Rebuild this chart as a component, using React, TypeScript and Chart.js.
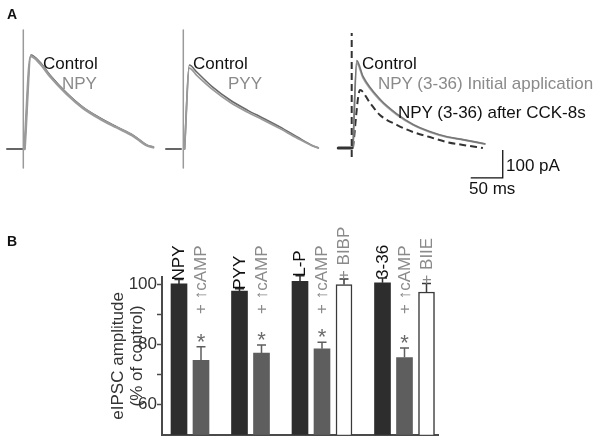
import React, { useEffect, useRef } from 'react';
import { Chart, registerables } from 'chart.js';

Chart.register(...registerables);

const FONT = '"Liberation Sans", Arial, Helvetica, sans-serif';

// ---------- Panel A data (time in ms after stimulus, current in pA above baseline) ----------
const npyTime = [2, 11.6, 26, 42, 68, 93, 120, 146, 171, 193, 203];
const npyControl = [0, 336, 311, 264, 200, 150, 111, 79, 50, 14, 7];
const npyDrug = [0, 331, 306, 259, 196, 147, 108, 77, 48, 13, 6];

const pyyTime = [2, 9.4, 21, 46, 73, 100, 124, 151, 178, 203, 211];
const pyyControl = [0, 300, 275, 221, 175, 139, 111, 79, 43, 11, 4];
const pyyDrug = [0, 289, 263, 212, 167, 132, 105, 73, 39, 10, 4];

const n336Time = [2, 7.8, 17.7, 44, 71, 96, 122, 149, 174, 208];
const n336Control = [0, 312, 256, 175, 121, 84, 59, 40, 30, 15];
const n336Initial = [0, 304, 250, 171, 118, 82, 57, 39, 29, 14];
const n336AfterTime = [2, 13, 28.6, 44, 71, 96, 122, 149, 174, 205];
const n336After = [0, 207, 161, 118, 82, 57, 39, 21, 11, 0];

const baselineTimes = [[-25.5, -2], [-27, -3.6], [-21, 0]];
const artifactRange = [[-68, 425], [-68, 425], [-32, 411]];

const scaleBarMs = 50;
const scaleBarPa = 100;

// ---------- Panel B data ----------
const barLabels = ['NPY', '+ \u2191cAMP', 'PYY', '+ \u2191cAMP', 'L-P', '+ \u2191cAMP', '+ BIBP', '3-36', '+ \u2191cAMP', '+ BIIE'];
const barValues = [100.2, 74.8, 97.8, 77.2, 101.1, 78.6, 100.0, 100.6, 75.7, 97.5];
const barErrors = [1.5, 4.5, 0.8, 2.7, 1.8, 2.2, 1.8, 1.6, 3.2, 2.8];
const barKinds = ['peptide', 'camp', 'peptide', 'camp', 'peptide', 'camp', 'blocker', 'peptide', 'camp', 'blocker'];
const barGroups = [0, 0, 1, 1, 2, 2, 2, 3, 3, 3];
const barSignificant = [false, true, false, true, false, true, false, false, true, false];
const yTicksLabelled = [60, 80, 100];
const yAxisTitle = ['eIPSC amplitude', '(% of control)'];

// ---------- layout / style ----------
const PX_PER_MS = 0.64;
const PX_PER_PA = 0.28;
const SCALE_BAR_CORNER = { t: 236, v: -107 };

const FILL: Record<string, string> = { peptide: '#2d2d2d', camp: '#5e5e5e', blocker: '#ffffff' };
const EDGE: Record<string, string> = { peptide: '#2d2d2d', camp: '#5e5e5e', blocker: '#3a3a3a' };
const LABEL_COL: Record<string, string> = { peptide: '#111111', camp: '#8a8a8a', blocker: '#8a8a8a' };

const pts = (xs: number[], ys: number[]) => xs.map((x, i) => ({ x, y: ys[i] }));

function lineDs(data: any[], color: string, width: number, extra: any = {}) {
  return {
    data,
    borderColor: color,
    borderWidth: width,
    pointRadius: 0,
    fill: false,
    borderJoinStyle: 'round',
    borderCapStyle: 'round',
    tension: 0,
    ...extra,
  };
}

const smooth = { cubicInterpolationMode: 'monotone' };

function TraceChart(props: {
  left: number; top: number; width: number; height: number; stimX: number; baseY: number;
  datasets: any[]; plugins?: any[];
}) {
  const { left, top, width, height, stimX, baseY, datasets, plugins } = props;
  const ref = useRef<HTMLCanvasElement>(null);
  useEffect(() => {
    const xMin = -(stimX - left) / PX_PER_MS;
    const xMax = (left + width - stimX) / PX_PER_MS;
    const yMax = (baseY - top) / PX_PER_PA;
    const yMin = -(top + height - baseY) / PX_PER_PA;
    const chart = new Chart(ref.current as HTMLCanvasElement, {
      type: 'line',
      data: { datasets },
      options: {
        animation: false,
        responsive: false,
        maintainAspectRatio: false,
        events: [],
        layout: { padding: 0 },
        plugins: { legend: { display: false }, tooltip: { enabled: false } },
        scales: {
          x: { type: 'linear', display: false, min: xMin, max: xMax },
          y: { type: 'linear', display: false, min: yMin, max: yMax },
        },
      },
      plugins: plugins || [],
    } as any);
    return () => chart.destroy();
  }, []);
  return (
    <canvas
      ref={ref}
      width={width}
      height={height}
      style={{ position: 'absolute', left, top, width, height }}
    />
  );
}

const scaleBarPlugin = {
  id: 'scaleBar',
  afterDatasetsDraw(chart: any) {
    const { ctx, scales } = chart;
    const xs = scales.x, ys = scales.y;
    const cx = xs.getPixelForValue(SCALE_BAR_CORNER.t);
    const cy = ys.getPixelForValue(SCALE_BAR_CORNER.v);
    const lx = xs.getPixelForValue(SCALE_BAR_CORNER.t - scaleBarMs);
    const ty = ys.getPixelForValue(SCALE_BAR_CORNER.v + scaleBarPa);
    ctx.save();
    ctx.strokeStyle = '#111';
    ctx.lineWidth = 1.3;
    ctx.beginPath();
    ctx.moveTo(cx, ty);
    ctx.lineTo(cx, cy);
    ctx.lineTo(lx, cy);
    ctx.stroke();
    ctx.restore();
  },
};

function BarChartB() {
  const ref = useRef<HTMLCanvasElement>(null);
  useEffect(() => {
    const positions = barValues.map((_, i) => i + 0.75 * barGroups[i]);
    const annot = {
      id: 'annot',
      afterDatasetsDraw(chart: any) {
        const { ctx, scales } = chart;
        const xs = scales.x, ys = scales.y;
        ctx.save();
        barValues.forEach((v, i) => {
          const kind = barKinds[i];
          const x = xs.getPixelForValue(positions[i]);
          const yTop = ys.getPixelForValue(v);
          const yErr = ys.getPixelForValue(v + barErrors[i]);
          // error bar
          ctx.strokeStyle = EDGE[kind];
          ctx.lineWidth = 1.5;
          ctx.beginPath();
          ctx.moveTo(x, yTop);
          ctx.lineTo(x, yErr);
          ctx.moveTo(x - 4.5, yErr);
          ctx.lineTo(x + 4.5, yErr);
          ctx.stroke();
          // significance star
          if (barSignificant[i]) {
            ctx.fillStyle = '#6a6a6a';
            ctx.font = `22px ${FONT}`;
            ctx.textAlign = 'center';
            ctx.textBaseline = 'alphabetic';
            ctx.fillText('*', x, yErr + 2);
          }
          // rotated label
          const start = kind === 'camp' ? ys.getPixelForValue(90.2) : yErr + 1;
          ctx.save();
          ctx.translate(x + 0.5, start);
          ctx.rotate(-Math.PI / 2);
          ctx.fillStyle = LABEL_COL[kind];
          ctx.font = `17px ${FONT}`;
          ctx.textAlign = 'left';
          ctx.textBaseline = 'middle';
          ctx.fillText(barLabels[i], 0, 0);
          ctx.restore();
        });
        ctx.restore();
      },
    };
    const chart = new Chart(ref.current as HTMLCanvasElement, {
      type: 'bar',
      data: {
        datasets: [
          {
            data: barValues.map((v, i) => ({ x: positions[i], y: v })),
            backgroundColor: barKinds.map((k) => FILL[k]),
            borderColor: barKinds.map((k) => EDGE[k]),
            borderWidth: barKinds.map((k) => (k === 'blocker' ? 1.5 : 0)),
            barThickness: 16,
          },
        ],
      },
      options: {
        animation: false,
        responsive: false,
        maintainAspectRatio: false,
        events: [],
        layout: { padding: { top: 87, right: 165, bottom: 8, left: 0 } },
        plugins: { legend: { display: false }, tooltip: { enabled: false } },
        scales: {
          x: {
            type: 'linear',
            min: -17 / 22,
            max: 259 / 22,
            offset: false,
            grid: { display: false },
            ticks: { display: false },
            border: { display: true, color: '#4a4a4a', width: 2 },
            afterFit: (s: any) => { s.height = 0; },
          },
          y: {
            type: 'linear',
            min: 50,
            max: 102.5,
            afterFit: (s: any) => { s.width = 162; },
            border: { display: true, color: '#4a4a4a', width: 2 },
            grid: {
              display: true,
              drawOnChartArea: false,
              drawTicks: true,
              tickLength: 5,
              tickWidth: 1.5,
              tickColor: (c: any) => (c.tick && c.tick.value > 55 ? '#4a4a4a' : 'rgba(0,0,0,0)'),
            },
            ticks: {
              stepSize: 10,
              includeBounds: false,
              padding: 0,
              color: '#333',
              font: { size: 17, family: FONT },
              callback: (v: any) => (yTicksLabelled.includes(Number(v)) ? String(v) : ''),
            },
            title: {
              display: true,
              text: yAxisTitle,
              color: '#333',
              font: { size: 17, family: FONT, lineHeight: 1.12 },
              padding: { top: 108.5, bottom: 0 },
            },
          },
        },
      },
      plugins: [annot],
    } as any);
    return () => chart.destroy();
  }, []);
  return (
    <canvas ref={ref} width={603} height={255} style={{ position: 'absolute', left: 0, top: 190, width: 603, height: 255 }} />
  );
}

function Txt(p: { x: number; y: number; text: string; color?: string; size?: number; bold?: boolean }) {
  const size = p.size || 17;
  return (
    <div
      style={{
        position: 'absolute',
        left: p.x,
        top: p.y,
        font: `${p.bold ? 'bold ' : ''}${size}px ${FONT}`,
        lineHeight: `${size}px`,
        color: p.color || '#111',
        whiteSpace: 'nowrap',
      }}
    >
      {p.text}
    </div>
  );
}

export default function App() {
  const ctrlCol = '#4d4d4d';
  const drugCol = '#9a9a9a';
  const trace1 = [
    lineDs(pts(baselineTimes[0], [0, 0]), '#666', 2),
    lineDs(pts([0, 0], artifactRange[0]), '#9a9a9a', 1.5),
    lineDs(pts(npyTime, npyDrug), drugCol, 2.6, smooth),
    lineDs(pts(npyTime, npyControl), ctrlCol, 1.4, smooth),
  ];
  const trace2 = [
    lineDs(pts(baselineTimes[1], [0, 0]), '#666', 2),
    lineDs(pts([0, 0], artifactRange[1]), '#9a9a9a', 1.5),
    lineDs(pts(pyyTime, pyyDrug), drugCol, 1.8, smooth),
    lineDs(pts(pyyTime, pyyControl), '#6a6a6a', 1.6, smooth),
  ];
  const trace3 = [
    lineDs(pts(baselineTimes[2], [0, 0]), '#333', 3),
    lineDs(pts([0, 0], artifactRange[2]), '#333', 2, { borderDash: [7, 4], borderCapStyle: 'butt' }),
    lineDs(pts(n336Time, n336Control), '#777', 1.6, smooth),
    lineDs(pts(n336Time, n336Initial), '#a8a8a8', 1.8, smooth),
    lineDs(pts(n336AfterTime, n336After), '#333', 2, { ...smooth, borderDash: [7, 4], borderCapStyle: 'butt' }),
  ];
  return (
    <div style={{ position: 'absolute', left: 0, top: 0, width: 603, height: 445, background: '#fff', overflow: 'hidden' }}>
      <TraceChart left={0} top={20} width={165} height={160} stimX={23.3} baseY={149} datasets={trace1} />
      <TraceChart left={160} top={20} width={165} height={160} stimX={183.3} baseY={149} datasets={trace2} />
      <TraceChart left={330} top={20} width={273} height={180} stimX={351.7} baseY={148} datasets={trace3} plugins={[scaleBarPlugin]} />
      <BarChartB />
      <Txt x={7} y={7} text="A" bold size={14} />
      <Txt x={7} y={234} text="B" bold size={14} />
      <Txt x={43} y={55} text="Control" />
      <Txt x={62} y={75} text="NPY" color="#8a8a8a" />
      <Txt x={193} y={55} text="Control" />
      <Txt x={228} y={75} text="PYY" color="#8a8a8a" />
      <Txt x={362} y={55} text="Control" />
      <Txt x={378} y={75} text="NPY (3-36) Initial application" color="#8a8a8a" />
      <Txt x={398} y={104} text="NPY (3-36) after CCK-8s" />
      <Txt x={506} y={157} text="100 pA" />
      <Txt x={469} y={180} text="50 ms" />
    </div>
  );
}
